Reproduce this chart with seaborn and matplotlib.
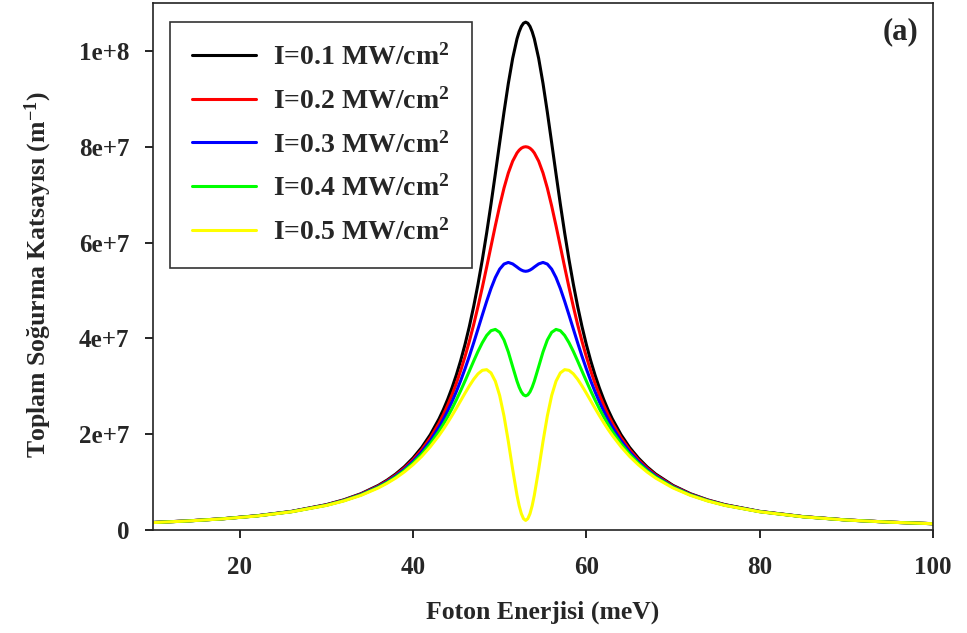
import matplotlib
matplotlib.use("Agg")
import matplotlib.pyplot as plt
import pandas as pd
import seaborn as sns

# ---- data (absorption in units of 1e6 m^-1) ----
energy_meV = [10, 14, 18, 22, 26, 30, 32, 34, 36, 37, 38, 39, 40, 41, 42, 43,
              43.5, 44, 44.5, 45, 45.5, 46, 46.5, 47, 47.5, 48, 48.5, 49, 49.5, 50, 50.5, 51, 51.5, 52,
              52.25, 52.5, 52.75, 53, 53.25, 53.5, 53.75,
              54, 54.5, 55, 55.5, 56, 56.5, 57, 57.5, 58, 58.5, 59, 59.5, 60, 60.5, 61, 61.5, 62, 62.5,
              63, 64, 65, 66, 67, 68, 70, 72, 74, 76, 80, 85, 90, 95, 100]

abs_I01 = [1.57, 1.90, 2.35, 2.98, 3.89, 5.29, 6.29, 7.58, 9.31, 10.40, 11.68, 13.20, 15.03, 17.22, 19.90, 23.19,
           25.11, 27.27, 29.67, 32.36, 35.36, 38.72, 42.47, 46.66, 51.31, 56.43, 62.01, 68.02, 74.35, 80.83, 87.22, 93.22, 98.44, 102.52,
           104.01, 105.11, 105.78, 106.00, 105.78, 105.11, 104.01,
           102.52, 98.44, 93.22, 87.22, 80.83, 74.35, 68.02, 62.01, 56.43, 51.31, 46.66, 42.47, 38.72, 35.36, 32.36, 29.67, 27.27, 25.11,
           23.19, 19.90, 17.22, 15.03, 13.20, 11.68, 9.31, 7.58, 6.29, 5.29, 3.89, 2.80, 2.10, 1.64, 1.32]

abs_I02 = [1.56, 1.90, 2.34, 2.96, 3.86, 5.25, 6.23, 7.49, 9.18, 10.24, 11.47, 12.93, 14.67, 16.75, 19.27, 22.32,
           24.09, 26.06, 28.22, 30.62, 33.26, 36.18, 39.37, 42.86, 46.64, 50.65, 54.88, 59.21, 63.52, 67.64, 71.37, 74.53, 76.99, 78.70,
           79.28, 79.69, 79.92, 80.00, 79.92, 79.69, 79.28,
           78.70, 76.99, 74.53, 71.37, 67.64, 63.52, 59.21, 54.88, 50.65, 46.64, 42.86, 39.37, 36.18, 33.26, 30.62, 28.22, 26.06, 24.09,
           22.32, 19.27, 16.75, 14.67, 12.93, 11.47, 9.18, 7.49, 6.23, 5.25, 3.86, 2.79, 2.10, 1.64, 1.31]

abs_I03 = [1.56, 1.89, 2.33, 2.95, 3.84, 5.20, 6.17, 7.41, 9.05, 10.07, 11.26, 12.66, 14.32, 16.29, 18.64, 21.46,
           23.07, 24.85, 26.78, 28.89, 31.17, 33.64, 36.27, 39.06, 41.96, 44.88, 47.74, 50.41, 52.70, 54.45, 55.51, 55.85, 55.54, 54.89,
           54.54, 54.26, 54.07, 54.00, 54.07, 54.26, 54.54,
           54.89, 55.54, 55.85, 55.51, 54.45, 52.70, 50.41, 47.74, 44.88, 41.96, 39.06, 36.27, 33.64, 31.17, 28.89, 26.78, 24.85, 23.07,
           21.46, 18.64, 16.29, 14.32, 12.66, 11.26, 9.05, 7.41, 6.17, 5.20, 3.84, 2.77, 2.09, 1.63, 1.31]

abs_I04 = [1.56, 1.88, 2.33, 2.94, 3.82, 5.16, 6.11, 7.32, 8.92, 9.90, 11.05, 12.39, 13.97, 15.82, 18.02, 20.60,
           22.05, 23.64, 25.33, 27.16, 29.08, 31.10, 33.17, 35.26, 37.28, 39.10, 40.61, 41.60, 41.87, 41.26, 39.66, 37.16, 34.09, 31.07,
           29.81, 28.83, 28.21, 28.00, 28.21, 28.83, 29.81,
           31.07, 34.09, 37.16, 39.66, 41.26, 41.87, 41.60, 40.61, 39.10, 37.28, 35.26, 33.17, 31.10, 29.08, 27.16, 25.33, 23.64, 22.05,
           20.60, 18.02, 15.82, 13.97, 12.39, 11.05, 8.92, 7.32, 6.11, 5.16, 3.82, 2.76, 2.08, 1.63, 1.31]

abs_I05 = [1.55, 1.88, 2.32, 2.92, 3.80, 5.12, 6.05, 7.23, 8.78, 9.74, 10.83, 12.12, 13.62, 15.35, 17.39, 19.73,
           21.03, 22.43, 23.89, 25.42, 26.99, 28.56, 30.07, 31.46, 32.60, 33.33, 33.47, 32.79, 31.05, 28.07, 23.80, 18.47, 12.65, 7.26,
           5.07, 3.41, 2.36, 2.00, 2.36, 3.41, 5.07,
           7.26, 12.65, 18.47, 23.80, 28.07, 31.05, 32.79, 33.47, 33.33, 32.60, 31.46, 30.07, 28.56, 26.99, 25.42, 23.89, 22.43, 21.03,
           19.73, 17.39, 15.35, 13.62, 12.12, 10.83, 8.78, 7.23, 6.05, 5.12, 3.80, 2.75, 2.08, 1.63, 1.31]

series_labels = [r"I=0.1 MW/cm$^{2}$", r"I=0.2 MW/cm$^{2}$", r"I=0.3 MW/cm$^{2}$",
                 r"I=0.4 MW/cm$^{2}$", r"I=0.5 MW/cm$^{2}$"]
series_colors = ["#000000", "#ff0000", "#0000ff", "#00ff00", "#ffff00"]
x_ticks = [20, 40, 60, 80, 100]
y_ticks = [0, 2e7, 4e7, 6e7, 8e7, 1e8]
y_tick_labels = ["0", "2e+7", "4e+7", "6e+7", "8e+7", "1e+8"]

# ---- style ----
sns.set_theme(style="ticks")
plt.rcParams["font.family"] = ["Liberation Serif", "DejaVu Serif"]
plt.rcParams["font.weight"] = "bold"
plt.rcParams["mathtext.fontset"] = "custom"
plt.rcParams["mathtext.rm"] = "Liberation Serif:bold"
plt.rcParams["mathtext.bf"] = "Liberation Serif:bold"
plt.rcParams["mathtext.it"] = "Liberation Serif:bold"
plt.rcParams["mathtext.default"] = "bf"

frames = []
for lab, vals in zip(series_labels, [abs_I01, abs_I02, abs_I03, abs_I04, abs_I05]):
    frames.append(pd.DataFrame({"energy": energy_meV,
                                "absorption": [v * 1e6 for v in vals],
                                "series": lab}))
df = pd.concat(frames, ignore_index=True)

fig = plt.figure(figsize=(9.67, 6.33), dpi=100)
ax = fig.add_axes([153 / 967, 1 - 530 / 633, 780 / 967, 527 / 633])

sns.lineplot(data=df, x="energy", y="absorption", hue="series",
             hue_order=series_labels, palette=dict(zip(series_labels, series_colors)),
             estimator=None, sort=False, linewidth=2.2, ax=ax)

ax.set_xlim(10, 100)
ax.set_ylim(0, 1.1e8)
ax.set_xticks(x_ticks)
ax.set_xticklabels([str(t) for t in x_ticks])
ax.set_yticks(y_ticks)
ax.set_yticklabels(y_tick_labels)
ax.tick_params(axis="both", direction="out", length=6, width=1.2, color="black",
               labelsize=18, top=False, right=False)
ax.tick_params(axis="x", pad=13)
ax.tick_params(axis="y", pad=11)
for lbl in ax.get_xticklabels() + ax.get_yticklabels():
    lbl.set_fontweight("bold")
for sp in ax.spines.values():
    sp.set_visible(True)
    sp.set_linewidth(1.2)
    sp.set_color("#222222")

ax.set_xlabel("Foton Enerjisi (meV)", fontsize=18.5, fontweight="bold", labelpad=15)
ax.set_ylabel(r"Toplam Soğurma Katsayısı (m$^{-1}$)", fontsize=18.5, fontweight="bold")
ax.yaxis.set_label_coords(-0.127, 0.484)

handles, labels = ax.get_legend_handles_labels()
leg = ax.legend(handles, labels, loc="upper left", bbox_to_anchor=(0.0218, 0.964),
                borderaxespad=0, frameon=True, fancybox=False, edgecolor="black",
                fontsize=20, handlelength=2.3, handletextpad=0.6, borderpad=0.8,
                labelspacing=0.62)
leg.get_frame().set_linewidth(1.2)
for line in leg.get_lines():
    line.set_linewidth(2.2)
for t in leg.get_texts():
    t.set_fontweight("bold")

ax.text(0.981, 0.945, "(a)", transform=ax.transAxes, ha="right", va="center",
        fontsize=22, fontweight="bold")

fig.savefig("out.png", dpi=100)
